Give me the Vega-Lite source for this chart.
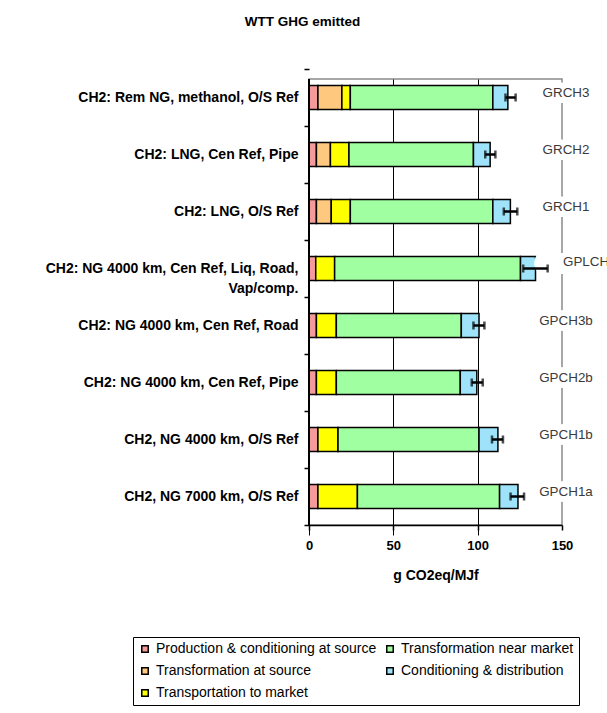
{
  "$schema": "https://vega.github.io/schema/vega-lite/v6.json",
  "autosize": {"type": "none"},
  "padding": {"left": 309, "top": 79, "right": 45, "bottom": 188},
  "width": 253,
  "height": 446,
  "background": "white",
  "config": {"view": {"stroke": "#8a8a8a", "strokeWidth": 1.5}, "font": "Liberation Sans"},
  "title": {"text": "WTT GHG emitted", "anchor": "middle", "frame": "group", "dx": -133, "offset": 40, "fontSize": 13.5, "font": "Liberation Sans", "fontWeight": "bold", "color": "black"},
  "datasets": {
    "segments": [
      {"pathway": "CH2: Rem NG, methanol, O/S Ref", "stage": "Production & conditioning at source", "step": 1, "value": 5.3},
      {"pathway": "CH2: Rem NG, methanol, O/S Ref", "stage": "Transformation at source", "step": 2, "value": 14.2},
      {"pathway": "CH2: Rem NG, methanol, O/S Ref", "stage": "Transportation to market", "step": 3, "value": 5.0},
      {"pathway": "CH2: Rem NG, methanol, O/S Ref", "stage": "Transformation near market", "step": 4, "value": 84.5},
      {"pathway": "CH2: Rem NG, methanol, O/S Ref", "stage": "Conditioning & distribution", "step": 5, "value": 8.9},
      {"pathway": "CH2: LNG, Cen Ref, Pipe", "stage": "Production & conditioning at source", "step": 1, "value": 4.4},
      {"pathway": "CH2: LNG, Cen Ref, Pipe", "stage": "Transformation at source", "step": 2, "value": 8.3},
      {"pathway": "CH2: LNG, Cen Ref, Pipe", "stage": "Transportation to market", "step": 3, "value": 11.0},
      {"pathway": "CH2: LNG, Cen Ref, Pipe", "stage": "Transformation near market", "step": 4, "value": 73.8},
      {"pathway": "CH2: LNG, Cen Ref, Pipe", "stage": "Conditioning & distribution", "step": 5, "value": 9.9},
      {"pathway": "CH2: LNG, O/S Ref", "stage": "Production & conditioning at source", "step": 1, "value": 4.4},
      {"pathway": "CH2: LNG, O/S Ref", "stage": "Transformation at source", "step": 2, "value": 8.8},
      {"pathway": "CH2: LNG, O/S Ref", "stage": "Transportation to market", "step": 3, "value": 11.3},
      {"pathway": "CH2: LNG, O/S Ref", "stage": "Transformation near market", "step": 4, "value": 84.5},
      {"pathway": "CH2: LNG, O/S Ref", "stage": "Conditioning & distribution", "step": 5, "value": 10.4},
      {"pathway": "CH2: NG 4000 km, Cen Ref, Liq, Road, Vap/comp.", "stage": "Production & conditioning at source", "step": 1, "value": 4.0},
      {"pathway": "CH2: NG 4000 km, Cen Ref, Liq, Road, Vap/comp.", "stage": "Transportation to market", "step": 3, "value": 11.2},
      {"pathway": "CH2: NG 4000 km, Cen Ref, Liq, Road, Vap/comp.", "stage": "Transformation near market", "step": 4, "value": 110.2},
      {"pathway": "CH2: NG 4000 km, Cen Ref, Liq, Road, Vap/comp.", "stage": "Conditioning & distribution", "step": 5, "value": 8.9},
      {"pathway": "CH2: NG 4000 km, Cen Ref, Road", "stage": "Production & conditioning at source", "step": 1, "value": 4.4},
      {"pathway": "CH2: NG 4000 km, Cen Ref, Road", "stage": "Transportation to market", "step": 3, "value": 11.8},
      {"pathway": "CH2: NG 4000 km, Cen Ref, Road", "stage": "Transformation near market", "step": 4, "value": 74.1},
      {"pathway": "CH2: NG 4000 km, Cen Ref, Road", "stage": "Conditioning & distribution", "step": 5, "value": 10.5},
      {"pathway": "CH2: NG 4000 km, Cen Ref, Pipe", "stage": "Production & conditioning at source", "step": 1, "value": 4.4},
      {"pathway": "CH2: NG 4000 km, Cen Ref, Pipe", "stage": "Transportation to market", "step": 3, "value": 11.8},
      {"pathway": "CH2: NG 4000 km, Cen Ref, Pipe", "stage": "Transformation near market", "step": 4, "value": 73.5},
      {"pathway": "CH2: NG 4000 km, Cen Ref, Pipe", "stage": "Conditioning & distribution", "step": 5, "value": 9.8},
      {"pathway": "CH2, NG 4000 km, O/S Ref", "stage": "Production & conditioning at source", "step": 1, "value": 5.3},
      {"pathway": "CH2, NG 4000 km, O/S Ref", "stage": "Transportation to market", "step": 3, "value": 11.9},
      {"pathway": "CH2, NG 4000 km, O/S Ref", "stage": "Transformation near market", "step": 4, "value": 83.6},
      {"pathway": "CH2, NG 4000 km, O/S Ref", "stage": "Conditioning & distribution", "step": 5, "value": 11.2},
      {"pathway": "CH2, NG 7000 km, O/S Ref", "stage": "Production & conditioning at source", "step": 1, "value": 5.3},
      {"pathway": "CH2, NG 7000 km, O/S Ref", "stage": "Transportation to market", "step": 3, "value": 23.4},
      {"pathway": "CH2, NG 7000 km, O/S Ref", "stage": "Transformation near market", "step": 4, "value": 84.3},
      {"pathway": "CH2, NG 7000 km, O/S Ref", "stage": "Conditioning & distribution", "step": 5, "value": 10.9}
    ],
    "totals": [
      {"pathway": "CH2: Rem NG, methanol, O/S Ref", "code": "GRCH3", "low": 116.5, "high": 122.5},
      {"pathway": "CH2: LNG, Cen Ref, Pipe", "code": "GRCH2", "low": 104.5, "high": 110.5},
      {"pathway": "CH2: LNG, O/S Ref", "code": "GRCH1", "low": 115.5, "high": 123.5},
      {"pathway": "CH2: NG 4000 km, Cen Ref, Liq, Road, Vap/comp.", "code": "GPLCH1", "low": 127.0, "high": 141.5},
      {"pathway": "CH2: NG 4000 km, Cen Ref, Road", "code": "GPCH3b", "low": 97.5, "high": 104.0},
      {"pathway": "CH2: NG 4000 km, Cen Ref, Pipe", "code": "GPCH2b", "low": 96.5, "high": 103.0},
      {"pathway": "CH2, NG 4000 km, O/S Ref", "code": "GPCH1b", "low": 108.5, "high": 115.0},
      {"pathway": "CH2, NG 7000 km, O/S Ref", "code": "GPCH1a", "low": 119.5, "high": 127.5}
    ]
  },
  "data": {"name": "segments"},
  "layer": [
    {
      "mark": {"type": "bar", "height": 24, "stroke": "black", "strokeWidth": 1.5},
      "encoding": {
        "y": {
          "field": "pathway", "type": "nominal", "title": null,
          "scale": {
            "domain": ["CH2: Rem NG, methanol, O/S Ref", "CH2: LNG, Cen Ref, Pipe", "CH2: LNG, O/S Ref", "CH2: NG 4000 km, Cen Ref, Liq, Road, Vap/comp.", "CH2: NG 4000 km, Cen Ref, Road", "CH2: NG 4000 km, Cen Ref, Pipe", "CH2, NG 4000 km, O/S Ref", "CH2, NG 7000 km, O/S Ref"],
            "range": [-10, 446], "paddingInner": 0, "paddingOuter": 0
          },
          "axis": {
            "title": null, "domain": false, "tickBand": "extent", "ticks": true, "tickSize": 5, "tickWidth": 1.5, "tickColor": "black",
            "labelFont": "Liberation Sans", "labelFontSize": 14, "labelFontWeight": "bold", "labelColor": "black", "labelPadding": 6, "labelLimit": 400, "labelLineHeight": 20,
            "labelExpr": "datum.value === 'CH2: NG 4000 km, Cen Ref, Liq, Road, Vap/comp.' ? ['CH2: NG 4000 km, Cen Ref, Liq, Road,', pad('Vap/comp.', 32, '\u00a0')] : datum.label"
          }
        },
        "x": {
          "field": "value", "type": "quantitative", "stack": "zero", "title": "g CO2eq/MJf",
          "scale": {"domain": [0, 150], "nice": false},
          "axis": {
            "values": [0, 50, 100, 150], "domainColor": "black", "domainWidth": 1.5, "tickColor": "black", "tickWidth": 1.5, "tickSize": 5,
            "labelFont": "Liberation Sans", "labelFontSize": 13, "labelFontWeight": "bold", "labelColor": "black", "labelPadding": 9, "labelFlush": false,
            "grid": true, "gridColor": {"condition": {"test": "datum.value === 150", "value": "transparent"}, "value": "black"}, "gridWidth": 1,
            "titleFont": "Liberation Sans", "titleFontSize": 14, "titleFontWeight": "bold", "titleColor": "black", "titlePadding": 16
          }
        },
        "color": {
          "field": "stage", "type": "nominal",
          "scale": {
            "domain": ["Production & conditioning at source", "Transformation at source", "Transportation to market", "Transformation near market", "Conditioning & distribution"],
            "range": ["#F49A9A", "#FFC87F", "#FFFF00", "#A0FFA0", "#9FE3FA"]
          },
          "legend": {
            "orient": "none", "legendX": -176, "legendY": 558, "title": null, "columns": 2,
            "symbolType": "square", "symbolSize": 42, "symbolStrokeColor": "black", "symbolStrokeWidth": 1.5,
            "labelFont": "Liberation Sans", "labelFontSize": 14, "labelColor": "black", "labelOffset": 4, "labelLimit": 400,
            "rowPadding": 8, "columnPadding": 6, "padding": 5, "strokeColor": "black", "fillColor": "white"
          }
        },
        "order": {"field": "step", "type": "quantitative"}
      }
    },
    {
      "data": {"name": "totals"},
      "mark": {"type": "text", "align": "center", "baseline": "middle", "dx": 4, "dy": -5, "fontSize": 13.4, "font": "Liberation Sans", "color": "white", "stroke": "white", "strokeWidth": 12},
      "encoding": {
        "y": {"field": "pathway", "type": "nominal"},
        "x": {"value": 253},
        "text": {"field": "code"}
      }
    },
    {
      "data": {"name": "totals"},
      "transform": [{"filter": "datum.code !== 'GPLCH1'"}],
      "mark": {"type": "text", "align": "center", "baseline": "middle", "dx": 4, "dy": -5, "fontSize": 13.4, "font": "Liberation Sans", "color": "#3a3a3a"},
      "encoding": {
        "y": {"field": "pathway", "type": "nominal"},
        "x": {"value": 253},
        "text": {"field": "code"}
      }
    },
    {
      "data": {"name": "totals"},
      "transform": [{"filter": "datum.code === 'GPLCH1'"}],
      "mark": {"type": "text", "align": "left", "baseline": "middle", "dx": 1, "dy": -7, "fontSize": 13.4, "font": "Liberation Sans", "color": "#3a3a3a"},
      "encoding": {
        "y": {"field": "pathway", "type": "nominal"},
        "x": {"value": 253},
        "text": {"field": "code"}
      }
    },
    {
      "data": {"name": "totals"},
      "mark": {"type": "rule", "color": "black", "strokeWidth": 2.5},
      "encoding": {
        "y": {"field": "pathway", "type": "nominal"},
        "x": {"field": "low", "type": "quantitative", "title": "g CO2eq/MJf"},
        "x2": {"field": "high"}
      }
    },
    {
      "data": {"name": "totals"},
      "mark": {"type": "tick", "orient": "vertical", "size": 8, "thickness": 2.5, "color": "black"},
      "encoding": {
        "y": {"field": "pathway", "type": "nominal"},
        "x": {"field": "high", "type": "quantitative", "title": "g CO2eq/MJf"}
      }
    },
    {
      "data": {"name": "totals"},
      "mark": {"type": "tick", "orient": "vertical", "size": 8, "thickness": 2.5, "color": "black"},
      "encoding": {
        "y": {"field": "pathway", "type": "nominal"},
        "x": {"field": "low", "type": "quantitative", "title": "g CO2eq/MJf"}
      }
    },
    {
      "data": {"name": "totals"},
      "mark": {"type": "rule", "color": "black", "strokeWidth": 1.5},
      "encoding": {"x": {"value": 0}}
    }
  ]
}
